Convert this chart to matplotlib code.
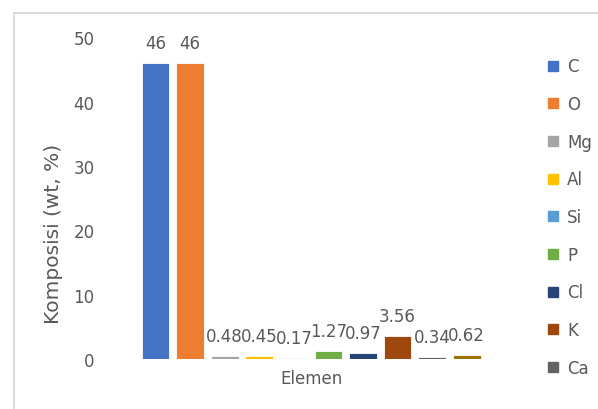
import matplotlib
matplotlib.use("Agg")
import matplotlib.pyplot as plt
from matplotlib.lines import Line2D

# Element composition (wt %)
elements = ["C", "O", "Mg", "Al", "Si", "P", "Cl", "K", "Ca", "Fe"]
values = [46, 46, 0.48, 0.45, 0.17, 1.27, 0.97, 3.56, 0.34, 0.62]
colors = ["#4472C4", "#ED7D31", "#A5A5A5", "#FFC000", "#5B9BD5",
          "#70AD47", "#264478", "#9E480E", "#636363", "#997300"]
yticks = [0, 10, 20, 30, 40, 50]
legend_count = 9

TEXT = "#595959"
FS = 12
plt.rcParams["font.family"] = ["DejaVu Sans"]

W, H = 598, 410
fig = plt.figure(figsize=(W / 100, H / 100), dpi=100)

# chart-area border (only the top and left edges fall inside the image)
border = dict(color="#D9D9D9", linewidth=1.4, transform=fig.transFigure)
fig.add_artist(Line2D([13.5 / W, 1.01], [(H - 13.5) / H] * 2, **border))
fig.add_artist(Line2D([13.5 / W] * 2, [-0.01, (H - 13.5) / H], **border))

ax_left, ax_right = 100, 522.3
ax_bottom, ax_top = 360, 38.3
ax = fig.add_axes([ax_left / W, (H - ax_bottom) / H,
                   (ax_right - ax_left) / W, (ax_bottom - ax_top) / H])

x = list(range(len(elements)))
ax.bar(x, values, width=0.8, color=colors, edgecolor="white",
       linewidth=0.6, zorder=2)

for xi, v in zip(x, values):
    ax.annotate(f"{v:g}", (xi, v), xytext=(0, 15), textcoords="offset pixels",
                ha="center", va="baseline", fontsize=FS, color=TEXT)

ax.set_xlim(-1.609, 10.609)
ax.set_ylim(0, 50)
ax.set_yticks(yticks)
ax.set_yticklabels([str(t) for t in yticks])
ax.set_xticks([])
ax.tick_params(axis="y", length=0, pad=4, labelsize=FS, labelcolor=TEXT)
for s in ax.spines.values():
    s.set_visible(False)

fig.text(54 / W, (H - 234) / H, "Komposisi (wt, %)", rotation=90,
         ha="center", va="center", fontsize=14.5, color=TEXT)
fig.text(311.5 / W, (H - 379) / H, "Elemen", ha="center", va="center",
         fontsize=FS, color=TEXT)

handles = [Line2D([], [], linestyle="none", marker="s", markersize=6.5,
                  markerfacecolor=c, markeredgecolor=c)
           for c in colors[:legend_count]]
fig.legend(handles, elements[:legend_count], loc="upper left",
           bbox_to_anchor=(538 / W, (H - 50) / H), frameon=False,
           fontsize=FS, labelcolor=TEXT, handlelength=0.8,
           handletextpad=0.45, labelspacing=1.18, borderpad=0)

fig.savefig("out.png", dpi=100)
